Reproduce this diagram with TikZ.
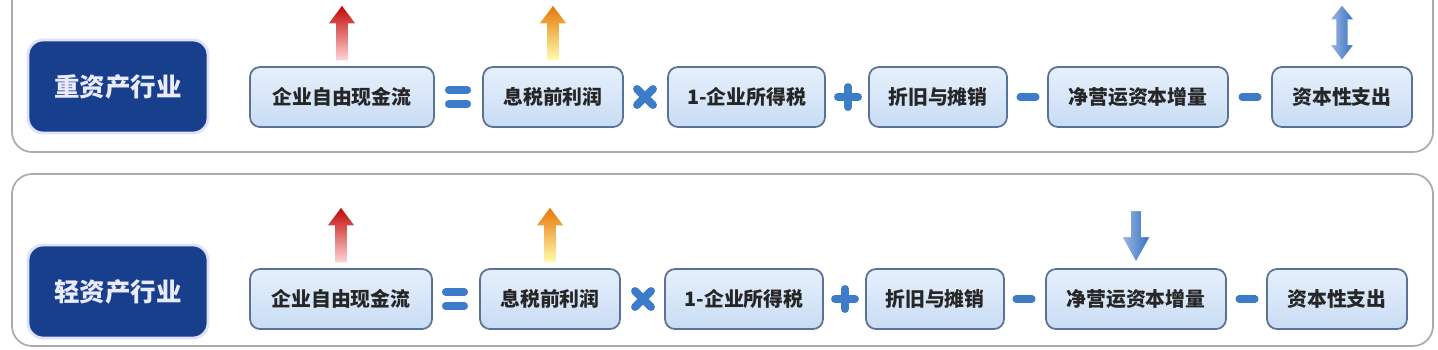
\documentclass[tikz,border=0pt]{standalone}
\usepackage{fontspec}
\setmainfont{Noto Sans CJK SC}
\usetikzlibrary{positioning}
\definecolor{labelblue}{HTML}{173F8C}
\definecolor{boxtop}{HTML}{E6F0FC}
\definecolor{boxbot}{HTML}{C8DCF4}
\definecolor{boxline}{HTML}{5A7394}
\definecolor{opblue}{HTML}{3D7CC9}
\definecolor{arrblue}{HTML}{2F6CC0}
% fat block arrows, drawn from the top edge of a term box
\newcommand{\blockup}[3]{%
  \path[top color=#2, bottom color=#3, draw=white, line width=1pt, shift={(#1.north)}]
    (-7,-5) -- (-7,-42) -- (-15,-42) -- (0,-62) -- (15,-42) -- (7,-42) -- (7,-5) -- cycle;}
\newcommand{\blockdown}[1]{%
  \path[left color=arrblue!45!white, right color=arrblue, draw=white, line width=1pt, shift={(#1.north)}]
    (-6,-58) -- (-6,-32) -- (-15,-32) -- (0,-5) -- (15,-32) -- (6,-32) -- (6,-58) -- cycle;}
\newcommand{\blockboth}[1]{%
  \path[left color=arrblue!45!white, right color=arrblue, draw=white, line width=1pt, shift={(#1.north)}]
    (0,-62) -- (13,-46) -- (6.5,-46) -- (6.5,-22) -- (13,-22) -- (0,-5) -- (-13,-22) -- (-6.5,-22) -- (-6.5,-46) -- (-13,-46) -- cycle;}
\begin{document}
\begin{tikzpicture}[x=0.2mm, y=-0.2mm,
  panel/.style={draw=gray!65, line width=1pt, rounded corners=4mm, fill=white},
  sector/.style={fill=labelblue, draw=blue!12, line width=1.6pt, rounded corners=3mm, text=white!92!blue,
    minimum width=36mm, minimum height=18.6mm, font=\fontsize{14.5}{16}\selectfont\bfseries},
  term/.style={top color=boxtop, bottom color=boxbot, draw=boxline, line width=1pt, rounded corners=2mm,
    minimum height=12mm, text=black!85, font=\fontsize{11.3}{13}\selectfont\bfseries},
  opbar/.style={draw=opblue, line width=4pt, line cap=round}]
  \useasboundingbox (0,0) rectangle (1438,349);
  \draw[panel] (12,-30) rectangle (1433,152);
  \draw[panel] (12,174) rectangle (1433,346);

  % heavy-asset row
  \node[sector] (heavy) at (118,86.5) {重资产行业};
  \node[term, minimum width=36.8mm] (fcfA) at (342,97) {企业自由现金流};
  \node[term, minimum width=28mm] (ebitA) at (553,97) {息税前利润};
  \node[term, minimum width=31.4mm] (taxA) at (746.5,97) {1-企业所得税};
  \node[term, minimum width=27.6mm] (daA) at (938,97) {折旧与摊销};
  \node[term, minimum width=36mm] (nwcA) at (1138,97) {净营运资本增量};
  \node[term, minimum width=28mm] (capexA) at (1342,97) {资本性支出};
  \coordinate (eqA) at (458,97);
  \coordinate (mulA) at (645,97);
  \coordinate (addA) at (848,97);
  \coordinate (subA) at (1028,97);
  \coordinate (subbA) at (1250,97);
  \draw[opbar, shift={(eqA)}] (-9.5,-7) -- (9.5,-7) (-9.5,7) -- (9.5,7);
  \draw[opbar, line width=4.5pt, shift={(mulA)}] (-8,-8) -- (8,8) (-8,8) -- (8,-8);
  \draw[opbar, line width=4.5pt, shift={(addA)}] (-10,0) -- (10,0) (0,-10) -- (0,10);
  \draw[opbar, shift={(subA)}] (-8,0) -- (8,0);
  \draw[opbar, shift={(subbA)}] (-8,0) -- (8,0);
  \blockup{fcfA}{red!75!black}{red!15!white}
  \blockup{ebitA}{orange!90!black}{yellow!30!white}
  \blockboth{capexA}

  % light-asset row
  \node[sector] (light) at (118,291.5) {轻资产行业};
  \node[term, minimum width=36.4mm] (fcfB) at (341,299) {企业自由现金流};
  \node[term, minimum width=28mm] (ebitB) at (550,299) {息税前利润};
  \node[term, minimum width=31.6mm] (taxB) at (744,299) {1-企业所得税};
  \node[term, minimum width=27.6mm] (daB) at (935,299) {折旧与摊销};
  \node[term, minimum width=36mm] (nwcB) at (1136,299) {净营运资本增量};
  \node[term, minimum width=28mm] (capexB) at (1337,299) {资本性支出};
  \coordinate (eqB) at (455,299);
  \coordinate (mulB) at (643,299);
  \coordinate (addB) at (845,299);
  \coordinate (subB) at (1024,299);
  \coordinate (subbB) at (1247,299);
  \draw[opbar, shift={(eqB)}] (-9.5,-7) -- (9.5,-7) (-9.5,7) -- (9.5,7);
  \draw[opbar, line width=4.5pt, shift={(mulB)}] (-8,-8) -- (8,8) (-8,8) -- (8,-8);
  \draw[opbar, line width=4.5pt, shift={(addB)}] (-10,0) -- (10,0) (0,-10) -- (0,10);
  \draw[opbar, shift={(subB)}] (-8,0) -- (8,0);
  \draw[opbar, shift={(subbB)}] (-8,0) -- (8,0);
  \blockup{fcfB}{red!75!black}{red!15!white}
  \blockup{ebitB}{orange!90!black}{yellow!30!white}
  \blockdown{nwcB}
\end{tikzpicture}
\end{document}
